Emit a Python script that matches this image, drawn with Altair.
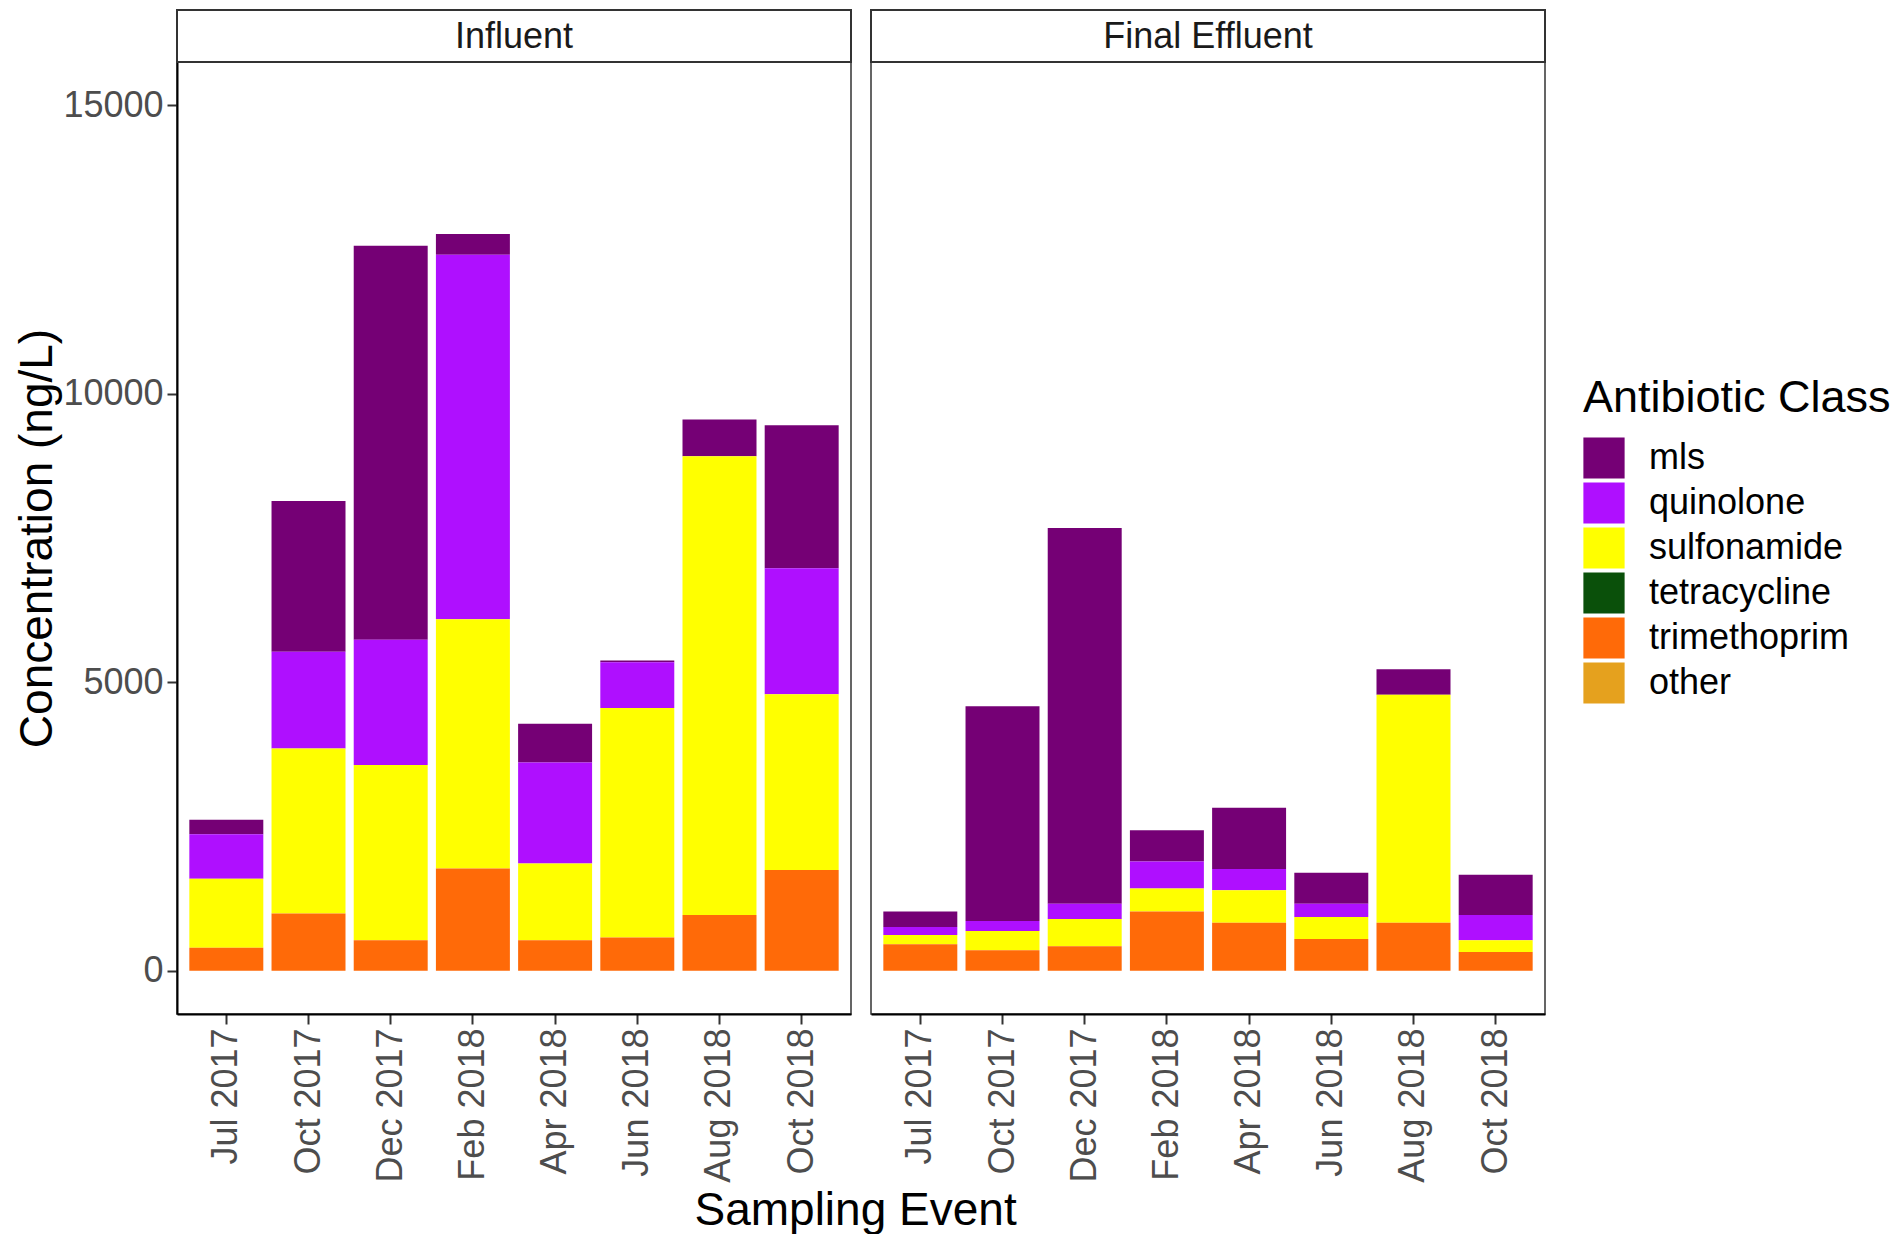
import altair as alt
import pandas as pd

events = ["Jul 2017", "Oct 2017", "Dec 2017", "Feb 2018",
          "Apr 2018", "Jun 2018", "Aug 2018", "Oct 2018"]
panels = ["Influent", "Final Effluent"]
classes = ["mls", "quinolone", "sulfonamide", "tetracycline", "trimethoprim", "other"]
colors = ["#750075", "#AF0FFF", "#FFFF00", "#0A500A", "#FF6A08", "#E5A11E"]

# Influent (ng/L)
inf_mls = [250, 2610, 6830, 360, 670, 30, 640, 2480]
inf_quinolone = [770, 1680, 2170, 6320, 1750, 790, 0, 2185]
inf_sulfonamide = [1195, 2860, 3035, 4320, 1330, 3980, 7950, 3045]
inf_tetracycline = [0, 0, 0, 0, 0, 0, 0, 0]
inf_trimethoprim = [400, 990, 530, 1770, 530, 575, 965, 1745]
inf_other = [0, 0, 0, 0, 0, 0, 0, 0]

# Final effluent (ng/L)
eff_mls = [265, 3725, 6515, 540, 1060, 540, 440, 700]
eff_quinolone = [140, 170, 265, 470, 370, 230, 0, 435]
eff_sulfonamide = [160, 335, 470, 400, 565, 380, 3955, 205]
eff_tetracycline = [0, 0, 0, 0, 0, 0, 0, 0]
eff_trimethoprim = [460, 355, 425, 1025, 830, 550, 830, 325]
eff_other = [0, 0, 0, 0, 0, 0, 0, 0]

y_ticks = [0, 5000, 10000, 15000]

series = {
    "Influent": [inf_mls, inf_quinolone, inf_sulfonamide, inf_tetracycline, inf_trimethoprim, inf_other],
    "Final Effluent": [eff_mls, eff_quinolone, eff_sulfonamide, eff_tetracycline, eff_trimethoprim, eff_other],
}

rows = []
for p in panels:
    for ci, c in enumerate(classes):
        for ei, e in enumerate(events):
            rows.append({"panel": p, "event": e, "cls": c,
                         "value": series[p][ci][ei],
                         "rank": len(classes) - 1 - ci})
df = pd.DataFrame(rows)

FONT = "Liberation Sans"
W, H = 674, 952
STRIP = 52

x_axis = alt.Axis(title=None, labelAngle=-90, labelFontSize=36, labelColor="#4D4D4D",
                  labelFont=FONT, labelPadding=4, tickSize=10, tickColor="#333333",
                  tickWidth=2, domainColor="#000000", domainWidth=2)
y_axis = alt.Axis(values=y_ticks, format="d", title="Concentration (ng/L)", grid=False,
                  labelFontSize=36, labelColor="#4D4D4D", labelFont=FONT,
                  labelPadding=4, tickSize=10, tickColor="#333333", tickWidth=2,
                  domainColor="#000000", domainWidth=2,
                  titleFontSize=46, titleFont=FONT, titleFontWeight="normal",
                  titleColor="#000000", titlePadding=1)
legend = alt.Legend(title="Antibiotic Class", orient="none",
                    legendX=1406, legendY=314,
                    titleFontSize=45, titleFont=FONT, titleFontWeight="normal",
                    titleColor="#000000", titlePadding=16, titleLimit=0,
                    labelFontSize=36, labelFont=FONT, labelColor="#000000", labelLimit=0,
                    labelOffset=24, symbolType="square", symbolSize=1700,
                    symbolStrokeWidth=0, rowPadding=3)


def panel_chart(p, show_y):
    d = df[df["panel"] == p]
    bars = alt.Chart(d).mark_bar().encode(
        x=alt.X("event:N", sort=events,
                scale=alt.Scale(paddingInner=0.1, paddingOuter=0.15), axis=x_axis),
        y=alt.Y("value:Q", stack="zero",
                scale=alt.Scale(domain=[-750, 15750], nice=False, zero=False),
                axis=y_axis if show_y else None),
        color=alt.Color("cls:N", sort=classes,
                        scale=alt.Scale(domain=classes, range=colors), legend=legend),
        order=alt.Order("rank:Q", sort="ascending"),
    )
    sd = pd.DataFrame({"panel": [p]})
    strip_rect = alt.Chart(sd).mark_rect(
        fill="#FFFFFF", stroke="#333333", strokeWidth=2
    ).encode(x=alt.value(0), x2=alt.value(W), y=alt.value(-STRIP), y2=alt.value(0))
    strip_text = alt.Chart(sd).mark_text(
        fontSize=36, font=FONT, color="#1A1A1A", baseline="middle", align="center"
    ).encode(text="panel:N", x=alt.value(W / 2), y=alt.value(-STRIP / 2 + 1))
    return alt.layer(strip_rect, strip_text, bars).properties(width=W, height=H)


chart = alt.hconcat(
    panel_chart("Influent", True),
    panel_chart("Final Effluent", False),
    spacing=16,
).resolve_scale(
    y="shared", color="shared"
).properties(
    title=alt.TitleParams(text="Sampling Event", orient="bottom", anchor="middle",
                          frame="bounds", dx=-97, fontSize=46, font=FONT,
                          fontWeight="normal", color="#000000", offset=6),
    padding={"left": 6, "top": 0, "right": 0, "bottom": 0},
).configure_view(
    stroke="#333333", strokeWidth=1.5
)

chart.save("out.html", embed_options={"renderer": "svg", "actions": False})
